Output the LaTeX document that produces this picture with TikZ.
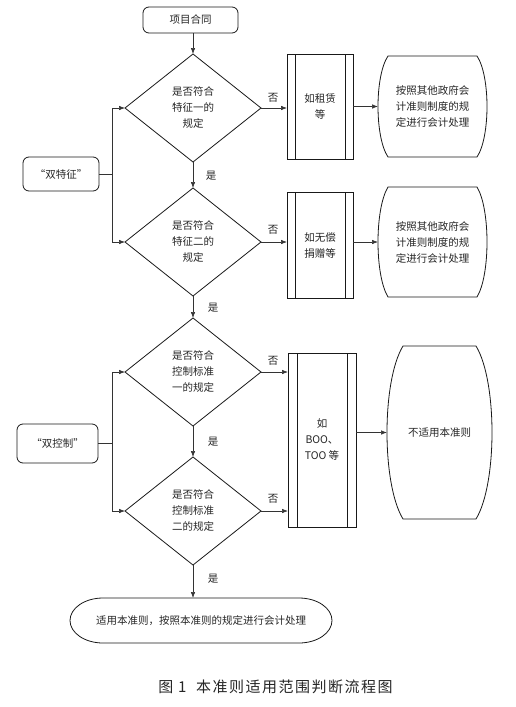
\documentclass[tikz,border=0pt]{standalone}
\usepackage{fontspec}
\setmainfont{Noto Sans CJK SC}
\usetikzlibrary{shapes.geometric,arrows.meta,calc}
\newcommand\barrelpath[3]{%
  \draw[shapeline] ([xshift=#2]#1.north west) -- ([xshift=-#2]#1.north east)
    .. controls ([xshift=#2/3,yshift=-#3]#1.north east) and ([xshift=#2/3,yshift=#3]#1.south east) .. ([xshift=-#2]#1.south east)
    -- ([xshift=#2]#1.south west)
    .. controls ([xshift=-#2/3,yshift=#3]#1.south west) and ([xshift=-#2/3,yshift=-#3]#1.north west) .. cycle;}
\newcommand\innerlines[2]{%
  \draw[shapeline] ([xshift=#2]#1.north west) -- ([xshift=#2]#1.south west);
  \draw[shapeline] ([xshift=-#2]#1.north east) -- ([xshift=-#2]#1.south east);}
\begin{document}
\begin{tikzpicture}[x=1pt,y=-1pt,
  txt/.style={font=\fontsize{10.5}{16}\selectfont, text=black!85, align=center},
  shapeline/.style={line width=0.8pt, draw=black!90},
  dec/.style={diamond, shapeline, draw, minimum width=136pt, minimum height=108pt, inner sep=0pt, outer sep=0pt, txt},
  rbox/.style={rectangle, rounded corners=6pt, shapeline, draw, inner sep=0pt, outer sep=0pt, txt},
  procbox/.style={rectangle, shapeline, draw, inner sep=0pt, outer sep=0pt, txt},
  holder/.style={rectangle, inner sep=0pt, outer sep=0pt, txt},
  conn/.style={line width=0.6pt, draw=black!80, -{Latex[length=6pt,width=4.5pt]}},
  plain/.style={line width=0.6pt, draw=black!80},
  lbl/.style={txt, inner sep=0pt}]
\fill[white] (0,0) rectangle (516,707);
\useasboundingbox (0,0) rectangle (516,707);

% main column
\node[rbox, minimum width=95pt, minimum height=26pt] (start) at (190.5,20) {项目合同};
\node[dec] (d1) at (193,108) {是否符合\\特征一的\\规定};
\node[dec] (d2) at (193,242) {是否符合\\特征二的\\规定};
\node[dec] (d3) at (193,372) {是否符合\\控制标准\\一的规定};
\node[dec] (d4) at (193,511) {是否符合\\控制标准\\二的规定};
\node[holder, minimum width=262pt, minimum height=45pt] (end) at (201,620.5) {适用本准则，按照本准则的规定进行会计处理};
\draw[shapeline] ([xshift=33pt]end.north west) -- ([xshift=-33pt]end.north east)
  arc[start angle=90, end angle=-90, x radius=33pt, y radius=22.5pt]
  -- ([xshift=33pt]end.south west)
  arc[start angle=270, end angle=90, x radius=33pt, y radius=22.5pt] -- cycle;

% left boxes
\node[rbox, minimum width=76pt, minimum height=34pt] (tz) at (61,174) {“双特征”};
\node[rbox, minimum width=81pt, minimum height=39pt] (tc) at (57.5,443.5) {“双控制”};
\coordinate (j1) at (112,174);
\coordinate (j2) at (112,443.5);

% right column
\node[procbox, minimum width=66pt, minimum height=105pt] (p1) at (320,106.5) {如租赁\\等};
\node[procbox, minimum width=66pt, minimum height=106pt] (p2) at (320,245) {如无偿\\捐赠等};
\node[procbox, minimum width=68pt, minimum height=174pt] (p3) at (322,440) {如\\BOO、\\TOO 等};
\innerlines{p1}{8pt}
\innerlines{p2}{8pt}
\innerlines{p3}{9pt}

\node[holder, minimum width=109pt, minimum height=101pt] (b1) at (432.5,106.5) {按照其他政府会\\计准则制度的规\\定进行会计处理};
\node[holder, minimum width=109pt, minimum height=110pt] (b2) at (432.5,242) {按照其他政府会\\计准则制度的规\\定进行会计处理};
\node[holder, minimum width=105pt, minimum height=173pt] (b3) at (439.5,432.5) {不适用本准则};
\barrelpath{b1}{10pt}{20pt}
\barrelpath{b2}{10pt}{22pt}
\barrelpath{b3}{16pt}{35pt}

% connectors main
\draw[conn] (d1.north |- start.south) -- (d1.north);
\draw[conn] (d1.south) -- (d2.north);
\draw[conn] (d2.south) -- (d3.north);
\draw[conn] (d3.south) -- (d4.north);
\draw[conn] (d4.south) -- (d4.south |- end.north);

% left connectors
\draw[plain] (tz.east) -- (j1);
\draw[conn] (j1) |- (d1.west);
\draw[conn] (j1) |- (d2.west);
\draw[plain] (tc.east) -- (j2);
\draw[conn] (j2) |- (d3.west);
\draw[conn] (j2) |- (d4.west);

% right connectors
\draw[conn] (d1.east) -- (d1.east -| p1.west);
\draw[conn] (d2.east) -- (d2.east -| p2.west);
\draw[conn] (d3.east) -- (d3.east -| p3.west);
\draw[conn] (d4.east) -- (d4.east -| p3.west);
\draw[conn] (p1.east) -- (b1.west);
\draw[conn] (p2.east |- b2.west) -- (b2.west);
\draw[conn] (p3.east |- b3.west) -- (b3.west);

% labels
\node[lbl] (y1) at (211,176) {是};
\node[lbl] (y2) at (213,308) {是};
\node[lbl] (y3) at (213,442) {是};
\node[lbl] (y4) at (213,579) {是};
\node[lbl] (n1) at (273,98) {否};
\node[lbl] (n2) at (273,230) {否};
\node[lbl] (n3) at (273,361) {否};
\node[lbl] (n4) at (273,499) {否};

% caption
\node[txt, font=\fontsize{15}{18}\selectfont\addfontfeature{LetterSpace=10}] (cap) at (275.5,687) {图 1\ \ 本准则适用范围判断流程图};
\end{tikzpicture}
\end{document}
